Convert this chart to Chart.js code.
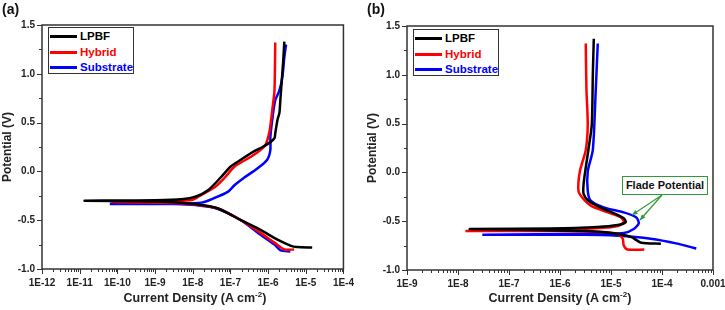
<!DOCTYPE html>
<html lang="en">
<head>
  <meta charset="UTF-8">
  <title>Potentiodynamic polarization curves</title>
  <script src="https://cdn.jsdelivr.net/npm/chart.js"></script>
  <style>
    body {
      margin: 0;
      width: 725px;
      height: 310px;
      background: #fff;
      font-family: 'Liberation Sans', Arial, sans-serif;
      position: relative;
      overflow: hidden;
      color: #222;
    }
    canvas { position: absolute; top: 0; }
    #chartA { left: 0; }
    #chartB { left: 365px; }
    .panel {
      position: absolute;
      top: 1px;
      font-weight: bold;
      font-size: 14px;
      color: #111;
    }
    .legend {
      position: absolute;
      box-sizing: border-box;
      width: 86px;
      height: 47px;
      border: 1.5px solid #333;
      background: #fff;
      padding-top: 1px;
    }
    .legend div {
      height: 15.5px;
      line-height: 15.5px;
      font-weight: bold;
      font-size: 11.5px;
      white-space: nowrap;
    }
    .legend span {
      display: inline-block;
      width: 27px;
      height: 3px;
      margin: 0 3px 0 1px;
      vertical-align: middle;
    }
    .xtitle {
      position: absolute;
      top: 290px;
      width: 240px;
      text-align: center;
      font-weight: bold;
      font-size: 12.5px;
      color: #222;
    }
    .xtitle sup { font-size: 8px; }
    .flade {
      position: absolute;
      left: 622px;
      top: 176px;
      width: 86px;
      height: 19px;
      box-sizing: border-box;
      border: 1.5px solid #2e9b35;
      background: #fff;
      font-weight: bold;
      font-size: 11px;
      line-height: 16px;
      text-align: center;
      color: #111;
    }
  </style>
</head>
<body>
  <canvas id="chartA" width="362" height="310"></canvas>
  <canvas id="chartB" width="372" height="310"></canvas>

  <div class="panel" style="left:2px">(a)</div>
  <div class="panel" style="left:367px">(b)</div>

  <div class="legend" id="legendA" style="left:48px; top:27px"></div>
  <div class="legend" id="legendB" style="left:413px; top:29px"></div>

  <div class="xtitle" style="left:75px">Current Density (A cm<sup>-2</sup>)</div>
  <div class="xtitle" style="left:440px">Current Density (A cm<sup>-2</sup>)</div>

  <div class="flade">Flade Potential</div>

  <script>
    const seriesNames = ['LPBF', 'Hybrid', 'Substrate'];
    const seriesColors = ['#000000', '#ff0000', '#0000ff'];

    // panel (a): current density (A/cm2) and potential (V), cathodic end -> Ecorr -> anodic end
    const aLpbfI = [1.48e-5, 5.9e-6, 3.9e-6, 1.78e-6, 6.3e-7, 1.9e-7, 4.7e-8, 1.4e-8, 3.2e-9, 3.2e-10, 1.35e-11,
                    1e-10, 1e-9, 5e-9, 1.17e-8, 2.6e-8, 5.6e-8, 1.02e-7, 1.9e-7, 4.4e-7, 7.1e-7, 1.15e-6,
                    1.48e-6, 1.55e-6, 1.78e-6, 2.0e-6, 2.14e-6, 2.5e-6, 2.7e-6];
    const aLpbfE = [-0.78, -0.775, -0.76, -0.70, -0.60, -0.50, -0.38, -0.34, -0.315, -0.305, -0.30,
                    -0.298, -0.295, -0.285, -0.26, -0.19, -0.06, 0.05, 0.12, 0.21, 0.25, 0.30,
                    0.34, 0.39, 0.53, 0.60, 0.76, 1.11, 1.33];

    const aHybridI = [4.9e-6, 2.7e-6, 1.48e-6, 6.3e-7, 1.9e-7, 4.7e-8, 1.4e-8, 3.2e-9, 3.2e-10, 6.9e-11,
                      3.2e-10, 3.2e-9, 1e-8, 1.7e-8, 3.9e-8, 7.2e-8, 1.3e-7, 3.5e-7, 6.3e-7, 8.5e-7,
                      1.1e-6, 1.32e-6, 1.48e-6, 1.55e-6];
    const aHybridE = [-0.80, -0.80, -0.73, -0.63, -0.50, -0.38, -0.345, -0.325, -0.318, -0.315,
                      -0.31, -0.305, -0.29, -0.24, -0.16, -0.06, 0.05, 0.15, 0.22, 0.27,
                      0.42, 0.66, 0.83, 1.32];

    const aSubI = [3.9e-6, 2.14e-6, 1.48e-6, 6.3e-7, 1.9e-7, 4.7e-8, 1.17e-8, 3.2e-9, 3.2e-10, 6.3e-11,
                   3.2e-10, 3.2e-9, 1.7e-8, 3.9e-8, 8.5e-8, 1.3e-7, 2.4e-7, 5.2e-7, 9.5e-7, 1.15e-6,
                   1.15e-6, 1.32e-6, 1.55e-6, 2.0e-6, 2.4e-6, 2.7e-6, 3.0e-6];
    const aSubE = [-0.82, -0.81, -0.75, -0.65, -0.50, -0.385, -0.345, -0.335, -0.335, -0.335,
                   -0.333, -0.33, -0.32, -0.27, -0.21, -0.14, -0.06, 0.03, 0.12, 0.22,
                   0.35, 0.56, 0.73, 0.83, 0.97, 1.17, 1.30];

    // panel (b)
    const bLpbfI = [9.5e-5, 3.9e-5, 2.45e-5, 1e-5, 2.9e-6, 2.9e-7, 1.7e-8,
                    6.6e-7, 5.5e-6, 1.35e-5, 1.95e-5, 1.78e-5, 1.15e-5, 6.3e-6, 3.6e-6, 2.9e-6,
                    2.9e-6, 3.2e-6, 3.6e-6, 4.2e-6, 4.4e-6, 4.6e-6];
    const bLpbfE = [-0.73, -0.72, -0.66, -0.62, -0.60, -0.59, -0.58,
                    -0.575, -0.56, -0.54, -0.51, -0.47, -0.42, -0.36, -0.29, -0.22,
                    -0.12, 0.05, 0.23, 0.49, 1.0, 1.37];

    const bHybridI = [4.5e-5, 2.1e-5, 1.78e-5, 1.7e-5, 1.35e-5, 6.3e-6, 6.6e-7, 1.4e-8,
                      6.6e-7, 6.3e-6, 1.35e-5, 1.78e-5, 1.55e-5, 8.7e-6, 4e-6, 2.75e-6, 2.3e-6,
                      2.45e-6, 3.2e-6, 3.5e-6, 3.3e-6, 3.2e-6];
    const bHybridE = [-0.79, -0.79, -0.75, -0.68, -0.63, -0.61, -0.60, -0.60,
                      -0.59, -0.57, -0.55, -0.51, -0.46, -0.41, -0.34, -0.26, -0.19,
                      0.01, 0.23, 0.49, 0.85, 1.32];

    const bSubI = [4.7e-4, 2.0e-4, 6e-5, 1.35e-5, 2.9e-6, 3e-8,
                   2.9e-6, 1.78e-5, 2.8e-5, 3.5e-5, 3.1e-5, 1.78e-5, 7.2e-6, 4e-6, 3.5e-6,
                   3.5e-6, 4.4e-6, 5e-6, 5.5e-6];
    const bSubE = [-0.78, -0.73, -0.68, -0.65, -0.64, -0.64,
                   -0.63, -0.62, -0.58, -0.52, -0.46, -0.41, -0.36, -0.29, -0.19,
                   0.01, 0.23, 0.82, 1.32];

    const xTicksA = [1e-12, 1e-11, 1e-10, 1e-9, 1e-8, 1e-7, 1e-6, 1e-5, 1e-4];
    const xLabelsA = ['1E-12', '1E-11', '1E-10', '1E-9', '1E-8', '1E-7', '1E-6', '1E-5', '1E-4'];
    const xTicksB = [1e-9, 1e-8, 1e-7, 1e-6, 1e-5, 1e-4, 1e-3];
    const xLabelsB = ['1E-9', '1E-8', '1E-7', '1E-6', '1E-5', '1E-4', '0.001'];
    const yTicks = [-1, -0.5, 0, 0.5, 1, 1.5];
    const yLabels = ['-1.0', '-0.5', '0.0', '0.5', '1.0', '1.5'];

    const FONT = "'Liberation Sans', Arial, sans-serif";

    // legends
    ['legendA', 'legendB'].forEach(id => {
      document.getElementById(id).innerHTML = seriesNames.map((n, i) =>
        `<div style="color:${seriesColors[i]}"><span style="background:${seriesColors[i]}"></span>${n}</div>`
      ).join('');
    });

    // box around plot + major/minor ticks (outward)
    const framePlugin = {
      id: 'frame',
      afterDraw(chart) {
        const { ctx, chartArea: a } = chart;
        const x = chart.scales.x, y = chart.scales.y;
        ctx.save();
        ctx.strokeStyle = '#333';
        ctx.lineWidth = 1;
        ctx.beginPath();
        const lo = Math.round(Math.log10(x.min)), hi = Math.round(Math.log10(x.max));
        for (let d = lo; d <= hi; d++) {
          for (let m = 1; m <= 9; m++) {
            const v = m * Math.pow(10, d);
            if (v > x.max * 1.0001) break;
            const px = Math.round(x.getPixelForValue(v)) + 0.5;
            ctx.moveTo(px, a.bottom);
            ctx.lineTo(px, a.bottom + (m === 1 ? 5 : 3));
          }
        }
        for (let k = 0; k <= 10; k++) {
          const v = y.min + k * 0.25;
          const py = Math.round(y.getPixelForValue(v)) + 0.5;
          ctx.moveTo(a.left - (k % 2 === 0 ? 5 : 3), py);
          ctx.lineTo(a.left, py);
        }
        ctx.stroke();
        ctx.lineWidth = 1.5;
        ctx.strokeRect(a.left, a.top, a.right - a.left, a.bottom - a.top);
        ctx.restore();
      }
    };

    // green arrows from the Flade Potential box
    const arrowPlugin = {
      id: 'fladeArrows',
      afterDraw(chart) {
        const ctx = chart.ctx;
        const from = [297, 195];
        const tips = [[267, 215], [275, 220]];
        ctx.save();
        ctx.strokeStyle = '#2e9b35';
        ctx.fillStyle = '#2e9b35';
        ctx.lineWidth = 1.2;
        tips.forEach(t => {
          ctx.beginPath();
          ctx.moveTo(from[0], from[1]);
          ctx.lineTo(t[0], t[1]);
          ctx.stroke();
          const ang = Math.atan2(t[1] - from[1], t[0] - from[0]);
          ctx.beginPath();
          ctx.moveTo(t[0], t[1]);
          ctx.lineTo(t[0] - 6 * Math.cos(ang - 0.4), t[1] - 6 * Math.sin(ang - 0.4));
          ctx.lineTo(t[0] - 6 * Math.cos(ang + 0.4), t[1] - 6 * Math.sin(ang + 0.4));
          ctx.closePath();
          ctx.fill();
        });
        ctx.restore();
      }
    };

    function makeChart(id, sets, xTicks, xLabels, pad, xHeight, extra) {
      return new Chart(document.getElementById(id), {
        type: 'scatter',
        data: {
          datasets: sets.map((s, i) => ({
            label: seriesNames[i],
            data: s[0].map((v, k) => ({ x: v, y: s[1][k] })),
            showLine: true,
            borderColor: seriesColors[i],
            backgroundColor: seriesColors[i],
            borderWidth: 2.5,
            pointRadius: 0,
            tension: 0.25,
            fill: false
          }))
        },
        options: {
          responsive: false,
          animation: false,
          devicePixelRatio: 1,
          layout: { padding: pad },
          plugins: { legend: { display: false }, tooltip: { enabled: false } },
          scales: {
            x: {
              type: 'logarithmic',
              min: xTicks[0],
              max: xTicks[xTicks.length - 1],
              grid: { display: false, drawTicks: false },
              border: { display: false },
              afterBuildTicks: s => { s.ticks = xTicks.map(v => ({ value: v })); },
              afterFit: s => { s.height = xHeight; },
              ticks: {
                callback: (v, i) => xLabels[i],
                autoSkip: false,
                maxRotation: 0,
                padding: 8,
                color: '#222',
                font: { family: FONT, weight: 'bold', size: 10 }
              }
            },
            y: {
              min: -1,
              max: 1.5,
              grid: { display: false, drawTicks: false },
              border: { display: false },
              afterBuildTicks: s => { s.ticks = yTicks.map(v => ({ value: v })); },
              afterFit: s => { s.width = 42; },
              ticks: {
                callback: (v, i) => yLabels[i],
                padding: 7,
                color: '#222',
                font: { family: FONT, weight: 'bold', size: 10 }
              },
              title: {
                display: true,
                text: 'Potential (V)',
                padding: 0,
                color: '#222',
                font: { family: FONT, weight: 'bold', size: 12 }
              }
            }
          }
        },
        plugins: [framePlugin].concat(extra)
      });
    }

    makeChart('chartA',
      [[aLpbfI, aLpbfE], [aHybridI, aHybridE], [aSubI, aSubE]],
      xTicksA, xLabelsA, { top: 25, right: 15, left: 0, bottom: 0 }, 41, []);

    makeChart('chartB',
      [[bLpbfI, bLpbfE], [bHybridI, bHybridE], [bSubI, bSubE]],
      xTicksB, xLabelsB, { top: 26, right: 24, left: 0, bottom: 0 }, 40, [arrowPlugin]);
  </script>
</body>
</html>
